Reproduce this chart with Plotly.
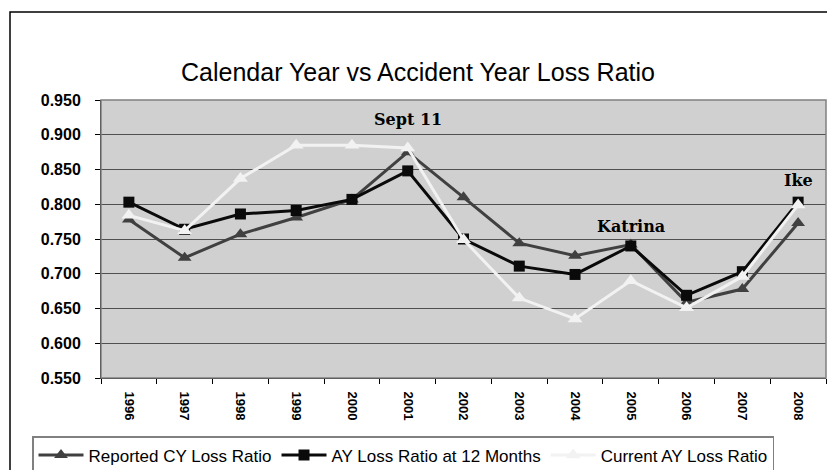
import plotly.graph_objects as go

years = [str(y) for y in range(1996, 2009)]
reported_cy = [0.778, 0.723, 0.757, 0.781, 0.807, 0.875, 0.810, 0.744, 0.726, 0.742, 0.659, 0.678, 0.773]
ay_12_months = [0.803, 0.764, 0.786, 0.791, 0.807, 0.848, 0.750, 0.711, 0.699, 0.740, 0.669, 0.703, 0.803]
current_ay = [0.784, 0.762, 0.837, 0.885, 0.885, 0.881, 0.749, 0.665, 0.635, 0.690, 0.651, 0.696, 0.799]

events = ['Sept 11', 'Katrina', 'Ike']
event_years = ['2001', '2005', '2008']
event_values = [0.922, 0.768, 0.834]

# page body adds an 8px offset, so target screen pixels minus 8
OFF = 8
L, R, T, B = 101 - OFF, 826 - OFF, 100 - OFF, 378 - OFF
W, H = 835, 470
pw, ph = R - L, B - T

fig = go.Figure()
fig.add_trace(go.Scatter(x=years, y=reported_cy, mode='lines+markers', name='Reported CY Loss Ratio',
                         line=dict(color='#404040', width=3),
                         marker=dict(symbol='triangle-up', size=12, color='#404040')))
fig.add_trace(go.Scatter(x=years, y=ay_12_months, mode='lines+markers', name='AY Loss Ratio at 12 Months',
                         line=dict(color='#0a0a0a', width=3),
                         marker=dict(symbol='square', size=11, color='#0a0a0a')))
fig.add_trace(go.Scatter(x=years, y=current_ay, mode='lines+markers', name='Current AY Loss Ratio',
                         line=dict(color='#f2f2f2', width=3),
                         marker=dict(symbol='triangle-up', size=13, color='#f2f2f2')))

for txt, yr, v in zip(events, event_years, event_values):
    fig.add_annotation(x=years.index(yr), y=v, text=f'<b>{txt}</b>', showarrow=False,
                       font=dict(family='DejaVu Serif', size=16, color='black'))

# outer chart frame
fig.add_shape(type='rect', xref='paper', yref='paper',
              x0=(10 - OFF - L) / pw, x1=(845 - L) / pw, y0=(B - 480) / ph, y1=1 + (T - (12 - OFF)) / ph,
              line=dict(color='black', width=1.5), layer='below')
# plot area frame
fig.add_shape(type='rect', xref='paper', yref='paper', x0=0, x1=1, y0=0, y1=1,
              line=dict(color='#808080', width=1.5))

fig.update_layout(
    width=W, height=H,
    margin=dict(l=L, r=W - R, t=T, b=H - B, autoexpand=False),
    paper_bgcolor='white', plot_bgcolor='#d0d0d0',
    font=dict(family='Liberation Sans', color='black'),
    title=dict(text='Calendar Year vs Accident Year Loss Ratio', x=(418 - OFF) / W, xanchor='center',
               y=1 - (72 - OFF) / H, yanchor='middle', font=dict(size=25, family='Liberation Sans')),
    xaxis=dict(type='category', range=[-0.5, len(years) - 0.5], tickangle=90, tickson='boundaries',
               ticks='outside', ticklen=5, tickcolor='black', showgrid=False, showline=True,
               linecolor='black', ticklabelstandoff=10,
               tickfont=dict(size=13, family='Liberation Sans', weight='bold')),
    yaxis=dict(range=[0.55, 0.95], dtick=0.05, tickformat='.3f', ticks='outside', ticklen=5,
               tickcolor='black', showline=True, linecolor='black', linewidth=1,
               gridcolor='#505050', gridwidth=1, zeroline=False, ticklabelstandoff=11,
               tickfont=dict(size=16, family='Liberation Sans', weight='bold')),
    showlegend=True,
    legend=dict(orientation='h', x=(32 - OFF - L) / pw, xanchor='left', y=(B - (436 - OFF)) / ph,
                yanchor='top', bordercolor='#808080', borderwidth=1.5, bgcolor='white',
                font=dict(size=17, family='Liberation Sans'), itemwidth=45),
)

fig.write_html('out.html')
